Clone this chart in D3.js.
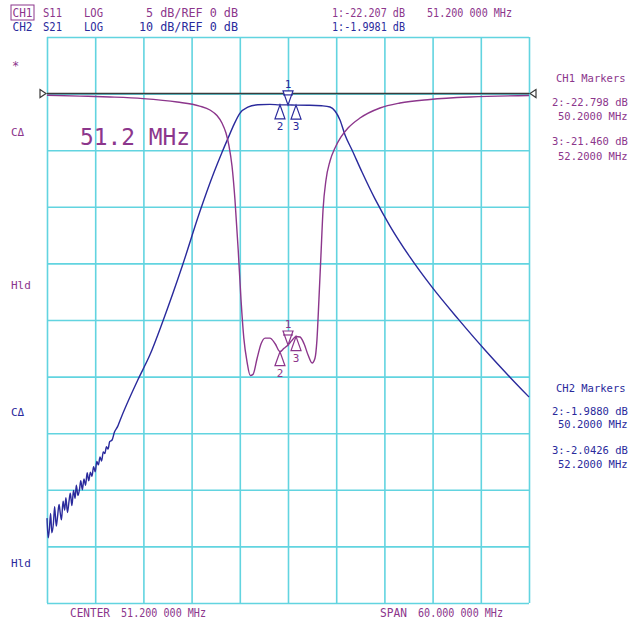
<!DOCTYPE html>
<html>
<head>
<meta charset="utf-8">
<script src="https://cdn.jsdelivr.net/npm/d3@7"></script>
<style>
  html, body { margin: 0; padding: 0; background: #fff; }
  svg text { font-family: "DejaVu Sans Mono", "Liberation Mono", monospace; }
</style>
</head>
<body>
<div id="chart"></div>
<script>
// S11 (CH1, 5 dB/div) trace, freq in MHz
const s11Freq = [21.2, 25.3, 29.04, 33.15, 37.4, 40.2, 41.49, 42.36, 42.98, 43.48, 43.86, 44.23, 44.6, 45.0, 45.35, 45.7, 46.1, 46.5, 46.85, 47.35, 47.85, 48.35, 48.95, 49.6, 50.2, 50.7, 51.2, 51.7, 52.2, 52.7, 53.2, 53.7, 54.2, 54.55, 54.8, 55.05, 55.3, 55.56, 55.93, 56.43, 57.05, 57.8, 58.67, 60.16, 62.65, 65.14, 68.88, 73.86, 81.2];
const s11Db = [-0.15, -0.22, -0.3, -0.44, -0.74, -1.1, -1.45, -1.94, -2.6, -3.48, -4.63, -6.4, -9.4, -13.8, -18.2, -21.6, -23.7, -24.9, -24.8, -23.4, -22.1, -21.6, -21.6, -22.1, -22.798, -22.5, -22.207, -21.8, -21.46, -21.5, -22.1, -23.1, -23.8, -23.4, -21.8, -18.2, -14.3, -10.28, -7.63, -5.95, -4.8, -3.83, -3.04, -2.16, -1.27, -0.83, -0.52, -0.3, -0.17];

// S21 (CH2, 10 dB/div) trace
const s21Freq = [21.2, 21.35, 21.5, 21.65, 21.8, 22.0, 22.15, 22.35, 22.5, 22.7, 22.85, 23.0, 23.2, 23.4, 23.55, 23.75, 23.95, 24.1, 24.3, 24.5, 24.7, 24.85, 25.05, 25.25, 25.4, 25.6, 25.8, 26.0, 26.2, 26.4, 26.6, 26.8, 27.0, 27.2, 27.4, 27.6, 27.8, 28.0, 28.2, 28.4, 28.6, 28.8, 29.0, 29.3, 29.6, 30.0, 30.3, 32.5, 34.0, 35.6, 38.1, 40.2, 41.99, 42.98, 43.73, 44.5, 45.2, 46.2, 47.45, 48.95, 50.2, 51.2, 52.2, 53.9, 55.4, 56.43, 57.05, 57.67, 58.3, 59.17, 60.41, 62.03, 63.9, 66.39, 69.13, 72.37, 75.72, 78.83, 81.2];
const s21Db = [-75.0, -78.5, -76.8, -74.2, -77.6, -75.9, -73.0, -76.4, -74.9, -72.6, -74.1, -75.3, -72.0, -73.6, -71.4, -74.0, -71.9, -70.6, -72.8, -70.1, -71.5, -69.2, -71.0, -69.9, -68.4, -70.0, -68.1, -69.2, -67.0, -68.4, -66.9, -67.6, -65.9, -66.8, -65.0, -65.6, -64.2, -64.9, -63.3, -63.6, -62.4, -62.8, -61.5, -61.2, -59.8, -58.8, -57.7, -50.6, -46.2, -40.3, -30.2, -20.97, -13.9, -10.4, -7.9, -5.4, -3.5, -2.4, -1.98, -1.9, -1.988, -1.998, -2.043, -2.05, -2.15, -2.37, -3.07, -4.66, -7.31, -9.96, -13.85, -18.6, -23.4, -28.9, -34.2, -39.8, -45.3, -50.1, -53.6];

// markers 1, 2, 3
const markerFreq = [51.2, 50.2, 52.2];
const markerS11 = [-22.207, -22.798, -21.460];
const markerS21 = [-1.9981, -1.9880, -2.0426];

const purple = '#8c368c';
const blue = '#2a2a9c';
const gridColor = '#62d4e0';

const width = 629, height = 624;
const svg = d3.select('#chart').append('svg')
  .attr('width', width)
  .attr('height', height);

const x = d3.scaleLinear().domain([21.2, 81.2]).range([47, 529]);
const y1 = d3.scaleLinear().domain([5, -45]).range([37, 603]);
const y2 = d3.scaleLinear().domain([10, -90]).range([37, 603]);

// grid, 10 x 10 divisions
const gridX = d3.range(11).map(i => 21.2 + i * 6);
const gridY = d3.range(11).map(i => 5 - i * 5);

svg.append('g')
  .attr('transform', `translate(0,${y1(-45)})`)
  .call(d3.axisBottom(x).tickValues(gridX).tickSize(-(y1(-45) - y1(5))).tickFormat(''))
  .call(g => g.select('.domain').remove())
  .selectAll('line').attr('stroke', gridColor).attr('stroke-width', 1.6);

svg.append('g')
  .attr('transform', `translate(${x(21.2)},0)`)
  .call(d3.axisLeft(y1).tickValues(gridY).tickSize(-(x(81.2) - x(21.2))).tickFormat(''))
  .call(g => g.select('.domain').remove())
  .selectAll('line').attr('stroke', gridColor).attr('stroke-width', 1.6);

// reference line (0 dB)
const refY = y1(0);
svg.append('line')
  .attr('x1', x(21.2)).attr('x2', x(81.2))
  .attr('y1', refY).attr('y2', refY)
  .attr('stroke', '#3c3c3c').attr('stroke-width', 1.5);
svg.append('path')
  .attr('d', `M${x(21.2) - 7},${refY - 4} L${x(21.2) - 1},${refY} L${x(21.2) - 7},${refY + 4} Z`)
  .attr('fill', 'white').attr('stroke', '#3c3c3c').attr('stroke-width', 1.2);
svg.append('path')
  .attr('d', `M${x(81.2) + 7},${refY - 4} L${x(81.2) + 1},${refY} L${x(81.2) + 7},${refY + 4} Z`)
  .attr('fill', 'white').attr('stroke', '#3c3c3c').attr('stroke-width', 1.2);

// traces
const s21Line = d3.line().x(d => x(d[0])).y(d => y2(d[1])).curve(d3.curveMonotoneX);
const s11Line = d3.line().x(d => x(d[0])).y(d => y1(d[1])).curve(d3.curveMonotoneX);

svg.append('path')
  .datum(d3.zip(s21Freq, s21Db))
  .attr('d', s21Line)
  .attr('fill', 'none').attr('stroke', blue).attr('stroke-width', 1.4);

svg.append('path')
  .datum(d3.zip(s11Freq, s11Db))
  .attr('d', s11Line)
  .attr('fill', 'none').attr('stroke', purple).attr('stroke-width', 1.4);

// markers
function drawMarkers(vals, yScale, color) {
  markerFreq.forEach((f, i) => {
    const px = x(f), py = yScale(vals[i]);
    const g = svg.append('g');
    if (i === 0) {
      g.append('path')
        .attr('d', `M${px - 5},${py - 14} L${px + 5},${py - 14} L${px},${py} Z`)
        .attr('fill', 'white').attr('stroke', color).attr('stroke-width', 1.2);
      g.append('line')
        .attr('x1', px - 5).attr('x2', px + 5).attr('y1', py - 10).attr('y2', py - 10)
        .attr('stroke', color).attr('stroke-width', 1.2);
      g.append('text').attr('x', px).attr('y', py - 17)
        .attr('text-anchor', 'middle').attr('font-size', 11).attr('fill', color).text('1');
    } else {
      g.append('path')
        .attr('d', `M${px},${py} L${px - 5},${py + 14} L${px + 5},${py + 14} Z`)
        .attr('fill', 'white').attr('stroke', color).attr('stroke-width', 1.2);
      g.append('text').attr('x', px).attr('y', py + 25)
        .attr('text-anchor', 'middle').attr('font-size', 11).attr('fill', color).text(String(i + 1));
    }
  });
}
drawMarkers(markerS21, y2, blue);
drawMarkers(markerS11, y1, purple);

// text helper; len squeezes the text to the analyzer's narrow glyphs
function txt(xp, yp, s, color, size, anchor, len) {
  const t = svg.append('text').attr('x', xp).attr('y', yp)
    .attr('font-size', size || 12).attr('fill', color)
    .attr('text-anchor', anchor || 'start').text(s);
  if (len) t.attr('textLength', len).attr('lengthAdjust', 'spacingAndGlyphs');
  return t;
}

// header
svg.append('rect').attr('x', 11).attr('y', 5).attr('width', 23).attr('height', 15)
  .attr('fill', 'none').attr('stroke', purple).attr('stroke-width', 1);
txt(12.5, 17, 'CH1', purple, 12, 'start', 20);
txt(43, 17, 'S11', purple, 12, 'start', 19);
txt(84, 17, 'LOG', purple, 12, 'start', 19);
txt(146, 17, '5 dB/REF 0 dB', purple, 12, 'start', 92);
txt(332, 17, '1:-22.207 dB', purple, 12, 'start', 73);
txt(427, 17, '51.200 000 MHz', purple, 12, 'start', 85);
txt(12.5, 31, 'CH2', blue, 12, 'start', 20);
txt(43, 31, 'S21', blue, 12, 'start', 19);
txt(84, 31, 'LOG', blue, 12, 'start', 19);
txt(139, 31, '10 dB/REF 0 dB', blue, 12, 'start', 99);
txt(332, 31, '1:-1.9981 dB', blue, 12, 'start', 73);

// left annotations
txt(12, 70, '*', purple, 12);
txt(11, 136, 'C\u0394', purple, 11);
txt(11, 289, 'Hld', purple, 11);
txt(11, 416, 'C\u0394', blue, 11);
txt(11, 567, 'Hld', blue, 11);

// big frequency label
txt(80, 145, '51.2 MHz', purple, 23, 'start', 110);

// marker readouts
txt(556, 82, 'CH1 Markers', purple, 10.5);
txt(552, 106, '2:-22.798 dB', purple, 10.5);
txt(558, 120, '50.2000 MHz', purple, 10.5);
txt(552, 145, '3:-21.460 dB', purple, 10.5);
txt(558, 160, '52.2000 MHz', purple, 10.5);
txt(556, 392, 'CH2 Markers', blue, 10.5);
txt(552, 415, '2:-1.9880 dB', blue, 10.5);
txt(558, 428, '50.2000 MHz', blue, 10.5);
txt(552, 454, '3:-2.0426 dB', blue, 10.5);
txt(558, 468, '52.2000 MHz', blue, 10.5);

// footer
txt(70, 617, 'CENTER', purple, 12, 'start', 40);
txt(121, 617, '51.200 000 MHz', purple, 12, 'start', 85);
txt(380, 617, 'SPAN', purple, 12, 'start', 27);
txt(418, 617, '60.000 000 MHz', purple, 12, 'start', 85);
</script>
</body>
</html>
